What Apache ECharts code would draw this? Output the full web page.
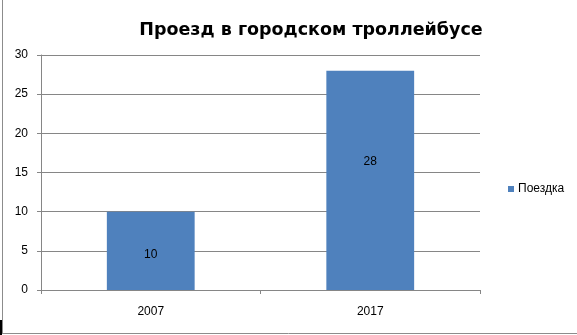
<!DOCTYPE html>
<html><head><meta charset="utf-8">
<script src="https://cdn.jsdelivr.net/npm/echarts@6/dist/echarts.min.js"></script>
<style>html,body{margin:0;padding:0;background:#fff}#c{width:577px;height:335px}</style>
</head><body><div id="c"></div>
<script>
const title = 'Проезд в городском троллейбусе';
const categories = ['2007', '2017'];
const seriesName = 'Поездка';
const values = [10, 28];
const yTicks = [0, 5, 10, 15, 20, 25, 30];

const chart = echarts.init(document.getElementById('c'));
const labelOffsets = [[0, 4], [0, -19]];
chart.setOption({
  animation: false,
  title: {
    text: title, left: 306, top: 16, textAlign: 'center',
    textStyle: {fontFamily: 'DejaVu Sans', fontWeight: 'bold', fontSize: 17.5, color: '#000'}
  },
  legend: {
    data: [seriesName], left: 503, top: 178, itemWidth: 6, itemHeight: 6, itemGap: 5,
    icon: 'rect',
    textStyle: {fontFamily: 'Liberation Sans', fontSize: 12, color: '#000', padding: [0,0,0,-1]}
  },
  grid: {left: 41, right: 97, top: 55, bottom: 45},
  xAxis: {
    type: 'category', data: categories,
    axisLine: {lineStyle: {color: '#868686'}},
    axisTick: {show: true, length: 4, lineStyle: {color: '#868686'}},
    axisLabel: {fontFamily: 'Liberation Sans', fontSize: 12, color: '#000', margin: 16}
  },
  yAxis: {
    type: 'value', min: yTicks[0], max: yTicks[yTicks.length-1], interval: 5,
    axisLine: {show: true, lineStyle: {color: '#868686'}},
    axisTick: {show: true, length: 4, lineStyle: {color: '#868686'}},
    splitLine: {lineStyle: {color: '#868686'}},
    axisLabel: {fontFamily: 'Liberation Sans', fontSize: 12, color: '#000', margin: 13}
  },
  series: [{
    name: seriesName, type: 'bar', barWidth: '40%',
    itemStyle: {color: '#4f81bd'},
    data: values.map((v, i) => ({value: v, label: {offset: labelOffsets[i]}})),
    label: {show: true, position: 'inside', fontFamily: 'Liberation Sans', fontSize: 12, color: '#000'}
  }],
  graphic: [
    {type: 'line', shape: {x1: 2.5, y1: 0, x2: 2.5, y2: 334}, style: {stroke: '#8c8c8c', lineWidth: 1}},
    {type: 'line', shape: {x1: 0, y1: 333.5, x2: 577, y2: 333.5}, style: {stroke: '#8c8c8c', lineWidth: 1}},
    {type: 'rect', shape: {x: 0, y: 320, width: 2, height: 15}, style: {fill: '#000'}}
  ]
});
</script></body></html>
